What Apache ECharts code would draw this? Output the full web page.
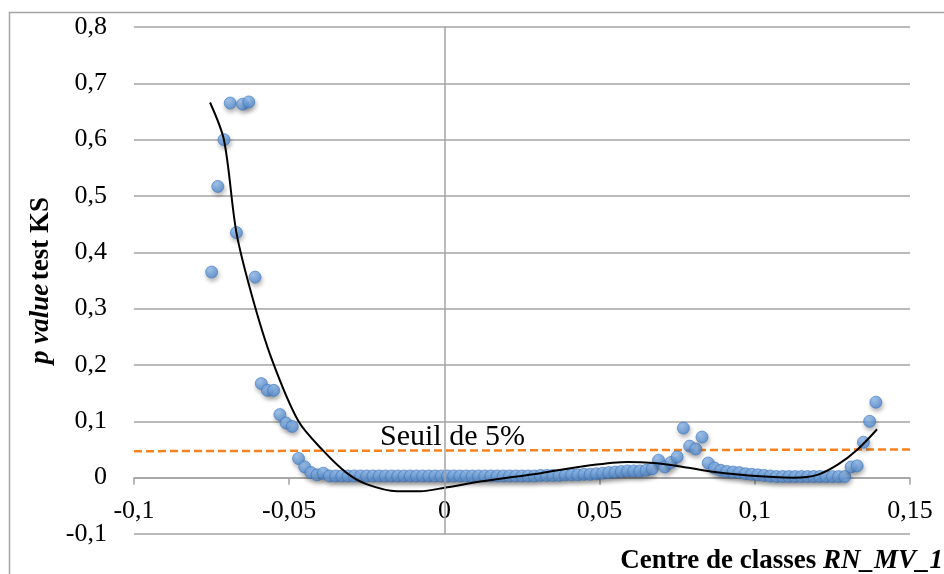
<!DOCTYPE html>
<html>
<head>
<meta charset="utf-8">
<script src="https://cdn.jsdelivr.net/npm/echarts@6/dist/echarts.min.js"></script>
<style>
  html, body { margin: 0; padding: 0; background: #fff; }
  #chart { width: 944px; height: 574px; }
</style>
</head>
<body>
<div id="chart"></div>
<script>
// Class centres (RN_MV_1) and KS-test p-values per class
const classCentres = [
  -0.075,-0.073,-0.071,-0.069,-0.067,-0.065,-0.063,-0.061,-0.059,-0.057,
  -0.055,-0.053,-0.051,-0.049,-0.047,-0.045,-0.043,-0.041,-0.039,-0.037,
  -0.035,-0.033,-0.031,-0.029,-0.027,-0.025,-0.023,-0.021,-0.019,-0.017,
  -0.015,-0.013,-0.011,-0.009,-0.007,-0.005,-0.003,-0.001,0.001,0.003,
  0.005,0.007,0.009,0.011,0.013,0.015,0.017,0.019,0.021,0.023,
  0.025,0.027,0.029,0.031,0.033,0.035,0.037,0.039,0.041,0.043,
  0.045,0.047,0.049,0.051,0.053,0.055,0.057,0.059,0.061,0.063,
  0.065,0.067,0.069,0.071,0.073,0.075,0.077,0.079,0.081,0.083,
  0.085,0.087,0.089,0.091,0.093,0.095,0.097,0.099,0.101,0.103,
  0.105,0.107,0.109,0.111,0.113,0.115,0.117,0.119,0.121,0.123,
  0.125,0.127,0.129,0.131,0.133,0.135,0.137,0.139
];
const pValues = [
  0.365,0.517,0.600,0.665,0.435,0.663,0.667,0.356,0.167,0.155,
  0.155,0.112,0.097,0.091,0.034,0.019,0.009,0.005,0.008,0.003,
  0.003,0.003,0.003,0.003,0.003,0.003,0.003,0.003,0.003,0.003,
  0.003,0.003,0.003,0.003,0.003,0.003,0.003,0.003,0.003,0.003,
  0.003,0.003,0.003,0.003,0.003,0.003,0.003,0.003,0.003,0.003,
  0.003,0.003,0.003,0.004,0.004,0.004,0.004,0.005,0.005,0.005,
  0.006,0.006,0.007,0.008,0.009,0.010,0.011,0.012,0.012,0.012,
  0.013,0.016,0.031,0.019,0.027,0.037,0.088,0.056,0.051,0.072,
  0.026,0.017,0.013,0.011,0.010,0.009,0.007,0.006,0.005,0.004,
  0.003,0.002,0.002,0.002,0.002,0.002,0.002,0.002,0.002,0.002,
  0.002,0.002,0.002,0.019,0.021,0.063,0.100,0.134
];

// Polynomial trend curve, sampled along its course
const trendX = [-0.0755,-0.071,-0.067,-0.0618,-0.0556,-0.047,-0.0389,-0.0314,-0.0249,-0.0153,
  -0.0077,0,0.0116,0.031,0.047,0.059,0.0675,0.0761,0.0858,0.0955,0.106,0.1127,0.1202,0.1267,0.1331,0.1394];
const trendY = [0.666,0.599,0.435,0.319,0.210,0.100,0.047,0.008,-0.012,-0.024,
  -0.024,-0.018,-0.007,0.008,0.022,0.028,0.026,0.020,0.011,0.005,0.001,0.000,0.005,0.023,0.050,0.086];

// 5% threshold line
const seuilX = [-0.1, 0.15];
const seuilY = [0.047, 0.050];

// Axis ranges and steps
const xRange = { min: -0.1, max: 0.15, step: 0.05 };
const yRange = { min: -0.1, max: 0.8, step: 0.1 };

const zip = (a, b) => a.map((v, i) => [v, b[i]]);
const frNum = v => String(+v.toFixed(2)).replace('.', ',');

const SERIF = '"Liberation Serif", "DejaVu Serif", serif';
const GRID_GREY = '#a3a3a3';

// Plot box in pixels; the category axis sits on the y = 0 line inside it
const plot = { left: 134, right: 34, top: 27, bottom: 40 };
const plotHeight = 574 - plot.top - plot.bottom;
const zeroLift = plotHeight * (0 - yRange.min) / (yRange.max - yRange.min);

const chart = echarts.init(document.getElementById('chart'), null, { renderer: 'canvas' });

chart.setOption({
  animation: false,
  backgroundColor: '#ffffff',
  grid: { left: plot.left, right: plot.right, top: plot.top, bottom: plot.bottom, containLabel: false },
  xAxis: {
    type: 'value',
    position: 'bottom',
    offset: -zeroLift,
    min: xRange.min, max: xRange.max, interval: xRange.step,
    axisLine: { show: true, onZero: false, lineStyle: { color: GRID_GREY, width: 1.5 } },
    axisTick: { show: true, length: 7, lineStyle: { color: GRID_GREY, width: 1.5 } },
    splitLine: { show: false },
    axisLabel: { formatter: frNum, color: '#000', fontFamily: SERIF, fontSize: 26, margin: 21 }
  },
  yAxis: {
    type: 'value',
    min: yRange.min, max: yRange.max, interval: yRange.step,
    axisLine: { show: false, onZero: false },
    axisTick: { show: false },
    splitLine: { show: true, lineStyle: { color: GRID_GREY, width: 1.5 } },
    axisLabel: { formatter: frNum, color: '#000', fontFamily: SERIF, fontSize: 26, margin: 27 },
    name: '{i|p value} {b|test KS}',
    nameLocation: 'middle',
    nameRotate: 90,
    nameGap: 76,
    nameTextStyle: {
      rich: {
        i: { fontFamily: SERIF, fontSize: 27, fontWeight: 'bold', fontStyle: 'italic', color: '#000' },
        b: { fontFamily: SERIF, fontSize: 27, fontWeight: 'bold', color: '#000' }
      }
    }
  },
  series: [
    {
      name: 'Seuil de 5%',
      type: 'line',
      data: zip(seuilX, seuilY),
      symbol: 'none',
      z: 2,
      lineStyle: { color: '#f5811f', width: 2.5, type: [8, 4] },
      markLine: {
        silent: true,
        symbol: ['none', 'none'],
        label: { show: false },
        lineStyle: { color: GRID_GREY, width: 1.5, type: 'solid' },
        data: [{ xAxis: 0 }]
      }
    },
    {
      name: 'p value',
      type: 'scatter',
      data: zip(classCentres, pValues),
      symbol: 'circle',
      symbolSize: 12,
      z: 3,
      itemStyle: {
        color: {
          type: 'radial', x: 0.4, y: 0.35, r: 0.75,
          colorStops: [
            { offset: 0, color: '#93bff0' },
            { offset: 1, color: '#4683cf' }
          ]
        },
        borderColor: '#4179c0',
        borderWidth: 0.8,
        shadowBlur: 4,
        shadowOffsetX: 1,
        shadowOffsetY: 3,
        shadowColor: 'rgba(0,0,0,0.35)'
      }
    },
    {
      name: 'Tendance',
      type: 'line',
      data: zip(trendX, trendY),
      symbol: 'none',
      smooth: 0.3,
      z: 4,
      lineStyle: { color: '#000', width: 2 }
    }
  ],
  graphic: [
    {
      type: 'polyline',
      silent: true,
      shape: { points: [[9.5, 574], [9.5, 12.5], [944, 12.5]] },
      style: { stroke: '#a3a3a3', lineWidth: 1.5, fill: null }
    },
    {
      type: 'text',
      silent: true,
      x: 380, y: 437,
      style: {
        text: 'Seuil de 5%',
        font: '30px ' + SERIF,
        fill: '#000',
        align: 'left',
        verticalAlign: 'middle'
      }
    },
    {
      type: 'text',
      silent: true,
      x: 943, y: 561,
      style: {
        text: 'Centre de classes {bi|RN_MV_1}',
        font: 'bold 27px ' + SERIF,
        fill: '#000',
        align: 'right',
        verticalAlign: 'middle',
        rich: {
          bi: { fontFamily: SERIF, fontSize: 27, fontWeight: 'bold', fontStyle: 'italic', fill: '#000' }
        }
      }
    }
  ]
});
</script>
</body>
</html>
